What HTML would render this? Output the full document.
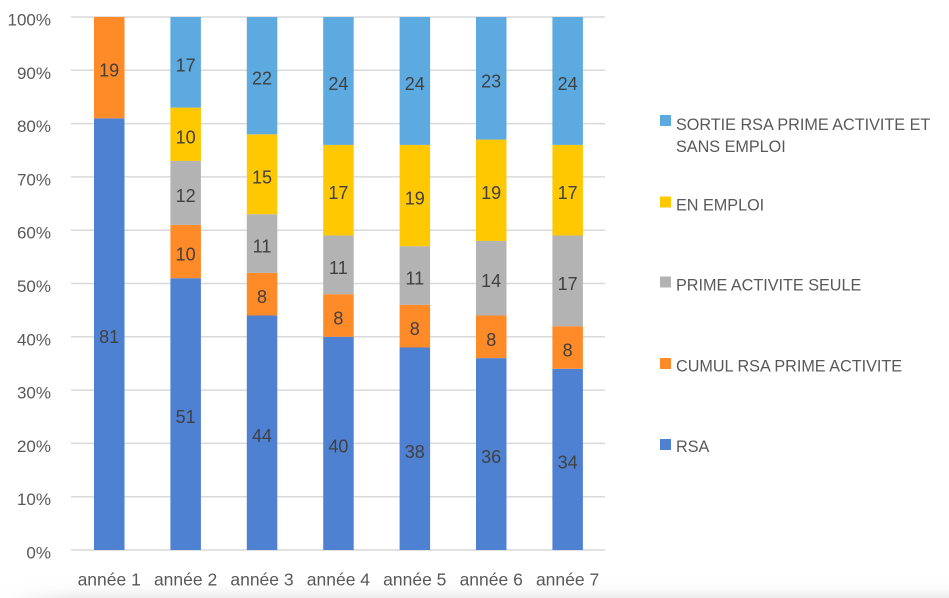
<!DOCTYPE html>
<html><head><meta charset="utf-8"><style>
html,body{margin:0;padding:0;background:#fff;}
svg{display:block;}
text{font-family:"Liberation Sans",sans-serif;}
</style></head><body>
<svg width="949" height="598" viewBox="0 0 949 598" xmlns="http://www.w3.org/2000/svg">
<defs>
<linearGradient id="sh" x1="0" y1="0" x2="0" y2="1">
<stop offset="0" stop-color="#ffffff" stop-opacity="0"/>
<stop offset="1" stop-color="#ececec" stop-opacity="1"/>
</linearGradient>
<linearGradient id="shx" x1="0" y1="0" x2="1" y2="0">
<stop offset="0" stop-color="#ffffff" stop-opacity="1"/>
<stop offset="0.08" stop-color="#ffffff" stop-opacity="0"/>
</linearGradient>
</defs>
<rect width="949" height="598" fill="#fff"/>
<rect x="0" y="578" width="949" height="20" fill="url(#sh)"/>
<rect x="0" y="578" width="949" height="20" fill="url(#shx)"/>
<g stroke="#d9d9d9" stroke-width="1.5">
<line x1="71" x2="605" y1="17" y2="17"/>
<line x1="71" x2="605" y1="70.3" y2="70.3"/>
<line x1="71" x2="605" y1="123.6" y2="123.6"/>
<line x1="71" x2="605" y1="176.9" y2="176.9"/>
<line x1="71" x2="605" y1="230.2" y2="230.2"/>
<line x1="71" x2="605" y1="283.5" y2="283.5"/>
<line x1="71" x2="605" y1="336.8" y2="336.8"/>
<line x1="71" x2="605" y1="390.1" y2="390.1"/>
<line x1="71" x2="605" y1="443.4" y2="443.4"/>
<line x1="71" x2="605" y1="496.7" y2="496.7"/>
<line x1="71" x2="605" y1="550" y2="550"/>
</g>
<g font-size="17" fill="#595959" text-anchor="end">
<text x="51" y="25.5">100%</text>
<text x="51" y="78.8">90%</text>
<text x="51" y="132.1">80%</text>
<text x="51" y="185.4">70%</text>
<text x="51" y="238.7">60%</text>
<text x="51" y="292">50%</text>
<text x="51" y="345.3">40%</text>
<text x="51" y="398.6">30%</text>
<text x="51" y="451.9">20%</text>
<text x="51" y="505.2">10%</text>
<text x="51" y="558.5">0%</text>
</g>
<!-- bars: y(p)=550-p*5.33 -->
<g>
<!-- bar1 -->
<rect x="94" y="118.3" width="30.5" height="431.7" fill="#4F81D3"/>
<rect x="94" y="17" width="30.5" height="101.3" fill="#FF8A28"/>
<!-- bar2 -->
<rect x="170.4" y="278.2" width="30.5" height="271.8" fill="#4F81D3"/>
<rect x="170.4" y="224.9" width="30.5" height="53.3" fill="#FF8A28"/>
<rect x="170.4" y="160.9" width="30.5" height="64" fill="#B3B3B3"/>
<rect x="170.4" y="107.6" width="30.5" height="53.3" fill="#FFC800"/>
<rect x="170.4" y="17" width="30.5" height="90.6" fill="#5DAAE0"/>
<!-- bar3 -->
<rect x="246.8" y="315.5" width="30.5" height="234.5" fill="#4F81D3"/>
<rect x="246.8" y="272.9" width="30.5" height="42.6" fill="#FF8A28"/>
<rect x="246.8" y="214.2" width="30.5" height="58.7" fill="#B3B3B3"/>
<rect x="246.8" y="134.3" width="30.5" height="79.9" fill="#FFC800"/>
<rect x="246.8" y="17" width="30.5" height="117.3" fill="#5DAAE0"/>
<!-- bar4 -->
<rect x="323.2" y="336.8" width="30.5" height="213.2" fill="#4F81D3"/>
<rect x="323.2" y="294.2" width="30.5" height="42.6" fill="#FF8A28"/>
<rect x="323.2" y="235.5" width="30.5" height="58.7" fill="#B3B3B3"/>
<rect x="323.2" y="144.9" width="30.5" height="90.6" fill="#FFC800"/>
<rect x="323.2" y="17" width="30.5" height="127.9" fill="#5DAAE0"/>
<!-- bar5 -->
<rect x="399.6" y="347.5" width="30.5" height="202.5" fill="#4F81D3"/>
<rect x="399.6" y="304.8" width="30.5" height="42.7" fill="#FF8A28"/>
<rect x="399.6" y="246.2" width="30.5" height="58.6" fill="#B3B3B3"/>
<rect x="399.6" y="144.9" width="30.5" height="101.3" fill="#FFC800"/>
<rect x="399.6" y="17" width="30.5" height="127.9" fill="#5DAAE0"/>
<!-- bar6 -->
<rect x="476" y="358.1" width="30.5" height="191.9" fill="#4F81D3"/>
<rect x="476" y="315.5" width="30.5" height="42.6" fill="#FF8A28"/>
<rect x="476" y="240.9" width="30.5" height="74.6" fill="#B3B3B3"/>
<rect x="476" y="139.6" width="30.5" height="101.3" fill="#FFC800"/>
<rect x="476" y="17" width="30.5" height="122.6" fill="#5DAAE0"/>
<!-- bar7 -->
<rect x="552.4" y="368.8" width="30.5" height="181.2" fill="#4F81D3"/>
<rect x="552.4" y="326.2" width="30.5" height="42.6" fill="#FF8A28"/>
<rect x="552.4" y="235.5" width="30.5" height="90.7" fill="#B3B3B3"/>
<rect x="552.4" y="144.9" width="30.5" height="90.6" fill="#FFC800"/>
<rect x="552.4" y="17" width="30.5" height="127.9" fill="#5DAAE0"/>
</g>
<g font-size="18" fill="#404040" text-anchor="middle">
<text x="109.2" y="343">81</text>
<text x="109.2" y="76.7">19</text>

<text x="185.6" y="423.1">51</text>
<text x="185.6" y="260.6">10</text>
<text x="185.6" y="201.9">12</text>
<text x="185.6" y="143.3">10</text>
<text x="185.6" y="71.3">17</text>

<text x="262" y="441.8">44</text>
<text x="262" y="303.2">8</text>
<text x="262" y="252.6">11</text>
<text x="262" y="183.3">15</text>
<text x="262" y="84.7">22</text>

<text x="338.4" y="452.4">40</text>
<text x="338.4" y="324.5">8</text>
<text x="338.4" y="273.9">11</text>
<text x="338.4" y="199.2">17</text>
<text x="338.4" y="90">24</text>

<text x="414.8" y="457.8">38</text>
<text x="414.8" y="335.2">8</text>
<text x="414.8" y="284.5">11</text>
<text x="414.8" y="204.6">19</text>
<text x="414.8" y="90">24</text>

<text x="491.2" y="463.1">36</text>
<text x="491.2" y="345.8">8</text>
<text x="491.2" y="287.2">14</text>
<text x="491.2" y="199.2">19</text>
<text x="491.2" y="87.3">23</text>

<text x="567.6" y="468.4">34</text>
<text x="567.6" y="356.5">8</text>
<text x="567.6" y="289.9">17</text>
<text x="567.6" y="199.2">17</text>
<text x="567.6" y="90">24</text>
</g>
<g font-size="17.5" fill="#595959" text-anchor="middle">
<text x="109.2" y="585.5">année 1</text>
<text x="185.6" y="585.5">année 2</text>
<text x="262" y="585.5">année 3</text>
<text x="338.4" y="585.5">année 4</text>
<text x="414.8" y="585.5">année 5</text>
<text x="491.2" y="585.5">année 6</text>
<text x="567.6" y="585.5">année 7</text>
</g>
<g>
<rect x="660" y="115" width="11" height="11" fill="#5DAAE0"/>
<rect x="660" y="196.5" width="11" height="11" fill="#FFC800"/>
<rect x="660" y="276.5" width="11" height="11" fill="#B3B3B3"/>
<rect x="660" y="358" width="11" height="11" fill="#FF8A28"/>
<rect x="660" y="439" width="11" height="11" fill="#4F81D3"/>
</g>
<g font-size="16.2" fill="#595959">
<text x="676" y="130">SORTIE RSA PRIME ACTIVITE ET</text>
<text x="676" y="152">SANS EMPLOI</text>
<text x="676" y="210.5">EN EMPLOI</text>
<text x="676" y="290.5">PRIME ACTIVITE SEULE</text>
<text x="676" y="371.5">CUMUL RSA PRIME ACTIVITE</text>
<text x="676" y="452">RSA</text>
</g>
</svg>
</body></html>
